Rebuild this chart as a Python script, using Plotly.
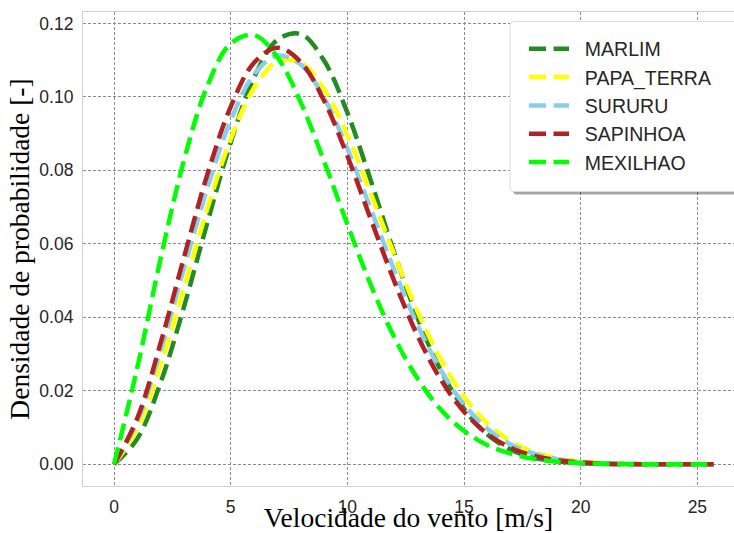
import plotly.graph_objects as go

# Wind speed grid (m/s)
velocidade = [0, 1, 2, 3, 4, 5, 6, 7, 8, 9, 10, 11, 12, 13, 14, 15, 16, 17, 18, 19, 20,
              21, 22, 23, 24, 25, 25.7]

# Probability density values
marlim = [0, 0.0070, 0.0223, 0.0429, 0.0658, 0.0876, 0.1052, 0.1155, 0.1171, 0.1099, 0.0957,
          0.0773, 0.0578, 0.0400, 0.0256, 0.0151, 0.0081, 0.0040, 0.0018, 0.0008, 0.0003,
          0.0001, 0.00003, 0, 0, 0, 0]
papa_terra = [0, 0.0098, 0.0273, 0.0482, 0.0696, 0.0885, 0.1024, 0.1096, 0.1093, 0.1021, 0.0896,
              0.0738, 0.0572, 0.0417, 0.0286, 0.0184, 0.0111, 0.0063, 0.0033, 0.0016, 0.0008,
              0.0003, 0.0001, 0.00004, 0.00001, 0, 0]
sururu = [0, 0.0117, 0.0311, 0.0534, 0.0752, 0.0936, 0.1061, 0.1112, 0.1088, 0.0997, 0.0859,
          0.0695, 0.0530, 0.0380, 0.0257, 0.0163, 0.0097, 0.0054, 0.0029, 0.0014, 0.0006,
          0.0003, 0.0001, 0.00004, 0.00001, 0, 0]
sapinhoa = [0, 0.0126, 0.0331, 0.0564, 0.0789, 0.0973, 0.1093, 0.1134, 0.1095, 0.0990, 0.0839,
            0.0668, 0.0500, 0.0351, 0.0231, 0.0143, 0.0083, 0.0045, 0.0023, 0.0011, 0.0005,
            0.0002, 0.00008, 0.00003, 0.00001, 0, 0]
mexilhao = [0, 0.0264, 0.0561, 0.0828, 0.1030, 0.1145, 0.1168, 0.1108, 0.0985, 0.0825, 0.0653,
            0.0489, 0.0347, 0.0234, 0.0149, 0.0091, 0.0052, 0.0029, 0.0015, 0.0007, 0.0003,
            0.00015, 0.00006, 0.00002, 0.00001, 0, 0]

series_names = ["MARLIM", "PAPA_TERRA", "SURURU", "SAPINHOA", "MEXILHAO"]
series_values = [marlim, papa_terra, sururu, sapinhoa, mexilhao]
series_colors = ["#228B22", "#FFFF00", "#87CEEB", "#B22222", "#00FF00"]

x_ticks = [0, 5, 10, 15, 20, 25]
y_ticks = [0.00, 0.02, 0.04, 0.06, 0.08, 0.10, 0.12]

fig = go.Figure()
for name, vals, col in zip(series_names, series_values, series_colors):
    fig.add_trace(go.Scatter(
        x=velocidade, y=vals, name="\u00a0\u00a0" + name, mode="lines", legendgroup=name,
        line=dict(color=col, width=4.5, dash="17px,7.5px", shape="spline", smoothing=1.0),
    ))

W, H = 734, 533
ml, mr, mt, mb = 83, 0, 12, 47
pw, ph = W - ml - mr, H - mt - mb

def px_x(p):
    return (p - ml) / pw

def px_y(p):
    return (H - mb - p) / ph

def rounded_rect(x0, y0, x1, y1, r):
    # pixel coords (y downward) -> svg path in paper coords
    X = px_x
    Y = px_y
    return (f"M{X(x0 + r)},{Y(y0)} L{X(x1 - r)},{Y(y0)} Q{X(x1)},{Y(y0)} {X(x1)},{Y(y0 + r)} "
            f"L{X(x1)},{Y(y1 - r)} Q{X(x1)},{Y(y1)} {X(x1 - r)},{Y(y1)} "
            f"L{X(x0 + r)},{Y(y1)} Q{X(x0)},{Y(y1)} {X(x0)},{Y(y1 - r)} "
            f"L{X(x0)},{Y(y0 + r)} Q{X(x0)},{Y(y0)} {X(x0 + r)},{Y(y0)} Z")

# legend frame (box + shadow)
shapes = [
    dict(type="path", xref="paper", yref="paper", layer="above",
         path=rounded_rect(513, 24.5, 760, 194.5, 4),
         fillcolor="rgba(0,0,0,0.35)", line=dict(width=0)),
    dict(type="path", xref="paper", yref="paper", layer="above",
         path=rounded_rect(510, 21.5, 760, 191.5, 4),
         fillcolor="white", line=dict(color="#dcdcdc", width=1)),
]

fig.update_layout(
    width=W, height=H,
    margin=dict(l=ml, r=mr, t=mt, b=mb, pad=0),
    paper_bgcolor="white", plot_bgcolor="white",
    showlegend=True,
    legend=dict(
        x=px_x(524), y=px_y(29.5), xanchor="left", yanchor="top",
        bgcolor="rgba(0,0,0,0)", borderwidth=0,
        font=dict(family="Liberation Sans, Arial, sans-serif", size=19.5, color="#262626"),
        itemwidth=40, tracegroupgap=0,
    ),
    shapes=shapes,
    xaxis=dict(
        range=[-1.33, 26.57], tickvals=x_ticks, ticktext=[str(v) for v in x_ticks],
        showgrid=True, gridcolor="#8c8c8c", gridwidth=1, griddash="3px,2px",
        zeroline=False, showline=True, mirror=True, linecolor="#d0d0d0", linewidth=1.25,
        ticks="", ticklabelstandoff=5, automargin=False,
        tickfont=dict(family="Liberation Sans, Arial, sans-serif", size=17.5, color="#262626"),
        title=dict(text="Velocidade do vento [m/s]", standoff=1,
                   font=dict(family="Liberation Serif, Times New Roman, serif", size=27.5, color="black")),
    ),
    yaxis=dict(
        range=[-0.0059, 0.1231], tickvals=y_ticks, ticktext=["%.2f" % v for v in y_ticks],
        showgrid=True, gridcolor="#8c8c8c", gridwidth=1, griddash="3px,2px",
        zeroline=False, showline=True, mirror=False, linecolor="#d0d0d0", linewidth=1.25,
        ticks="", ticklabelstandoff=5, automargin=False,
        tickfont=dict(family="Liberation Sans, Arial, sans-serif", size=17.5, color="#262626"),
        title=dict(text="Densidade de probabilidade [-]", standoff=1,
                   font=dict(family="Liberation Serif, Times New Roman, serif", size=27.5, color="black")),
    ),
)

fig.write_html("out.html")
